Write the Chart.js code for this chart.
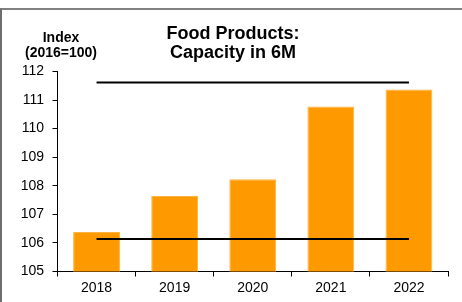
<!DOCTYPE html>
<html>
<head>
<meta charset="utf-8">
<script src="https://cdn.jsdelivr.net/npm/chart.js@4/dist/chart.umd.min.js"></script>
<style>
  html, body { margin: 0; padding: 0; background: #fff; }
  #wrap { position: relative; width: 462px; height: 302px; overflow: hidden; }
  #frame { position: absolute; left: 0; top: 8px; width: 480px; height: 320px;
           border-top: 2px solid #808080; border-left: 2px solid #6e6e6e; pointer-events: none; }
</style>
</head>
<body>
<div id="wrap">
  <canvas id="chart" width="462" height="302"></canvas>
  <div id="frame"></div>
</div>
<script>
// ---- data ----
const years = ['2018', '2019', '2020', '2021', '2022'];
const capacityIndex = [106.38, 107.64, 108.23, 110.77, 111.37];
const lowerRef = [106.14, 106.14, 106.14, 106.14, 106.14];
const upperRef = [111.61, 111.61, 111.61, 111.61, 111.61];
const yTicks = [105, 106, 107, 108, 109, 110, 111, 112];
const titleLines = ['Food Products:', 'Capacity in 6M'];
const unitLines = ['Index', '(2016=100)'];

const FONT = 'Arial, "Liberation Sans", sans-serif';
const PAD_L = 18;

// "Index (2016=100)" sits above the y axis, drawn after everything else
const unitLabel = {
  id: 'unitLabel',
  afterDraw(chart) {
    const ctx = chart.ctx;
    ctx.save();
    ctx.fillStyle = '#000';
    ctx.font = `bold 14px ${FONT}`;
    ctx.textAlign = 'center';
    ctx.textBaseline = 'middle';
    ctx.fillText(unitLines[0], 61, 38);
    ctx.fillText(unitLines[1], 61, 53);
    ctx.restore();
  },
};

new Chart(document.getElementById('chart').getContext('2d'), {
  type: 'bar',
  data: {
    labels: years,
    datasets: [
      { type: 'line', data: upperRef, borderColor: '#000', borderWidth: 2, pointRadius: 0, fill: false, tension: 0 },
      { type: 'line', data: lowerRef, borderColor: '#000', borderWidth: 2, pointRadius: 0, fill: false, tension: 0 },
      { type: 'bar', data: capacityIndex, backgroundColor: '#FF9900', borderColor: '#FFB340', borderWidth: 1,
        barPercentage: 0.6, categoryPercentage: 1.0 },
    ],
  },
  options: {
    responsive: false, animation: false, devicePixelRatio: 1,
    layout: { padding: { left: PAD_L, right: 14, top: 0, bottom: 0 } },
    plugins: {
      legend: { display: false },
      tooltip: { enabled: false },
      title: {
        display: true, text: titleLines, color: '#000',
        font: { family: FONT, size: 18, weight: 'bold', lineHeight: 1.06 },
        padding: { top: 24.5, bottom: 8.8 },
      },
    },
    scales: {
      x: {
        offset: true,
        grid: { display: true, offset: true, drawOnChartArea: false, drawTicks: true, tickLength: 5, color: '#000' },
        border: { display: true, color: '#000', width: 1 },
        ticks: { color: '#000', font: { family: FONT, size: 14 }, padding: 3, maxRotation: 0 },
        afterFit: (s) => { s.height = 302 - 271.5; },
      },
      y: {
        min: 105, max: 112,
        afterBuildTicks: (s) => { s.ticks = yTicks.map((v) => ({ value: v })); },
        grid: { display: true, drawOnChartArea: false, drawTicks: true, tickLength: 5, color: '#000' },
        border: { display: true, color: '#000', width: 1 },
        ticks: { color: '#000', font: { family: FONT, size: 14 }, padding: 8.5 },
        afterFit: (s) => { s.width = 57.5 - PAD_L; },
      },
    },
  },
  plugins: [unitLabel],
});
</script>
</body>
</html>
